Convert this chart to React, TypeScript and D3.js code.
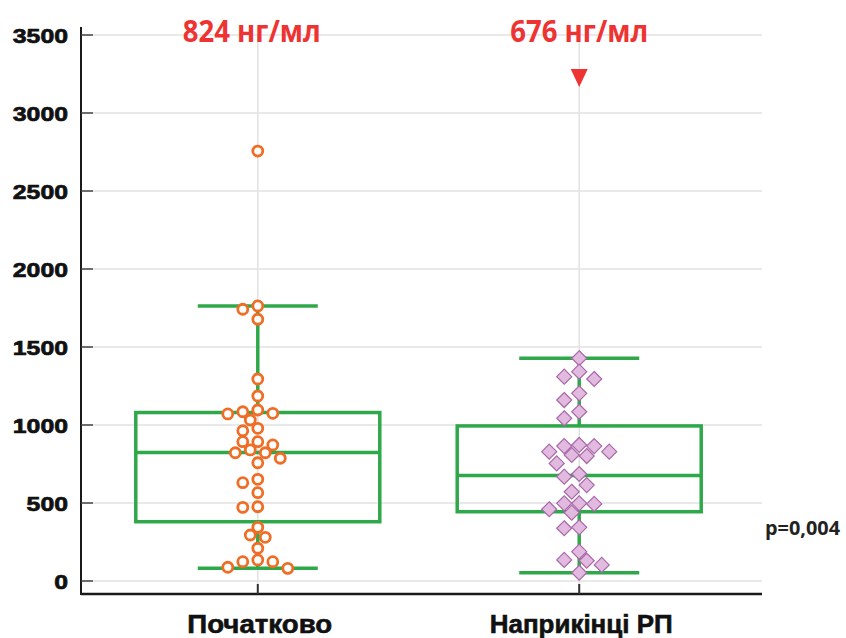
import React, { useEffect, useRef } from 'react';
import * as d3 from 'd3';

// categories on the x axis
const categories = ['Початково', 'Наприкінці РП'];

// individual measurements (нг/мл)
const baselineValues = [
  2756, 1763, 1742, 1678, 1295, 1186, 1096, 1085, 1075, 1071, 1032, 979, 963,
  893, 893, 872, 840, 822, 822, 787, 758, 652, 630, 566, 476, 472, 344, 295,
  280, 210, 135, 124, 124, 88, 81,
];
const endValues = [
  1428, 1342, 1310, 1295, 1203, 1160, 1085, 1043, 872, 865, 865, 829, 829, 808,
  801, 754, 686, 669, 615, 572, 498, 498, 494, 460, 438, 344, 338, 188, 135,
  130, 103, 53,
];

// box plot statistics per category
const medians = [824, 676];
const q1 = [380, 444];
const q3 = [1080, 994];
const whiskerLow = [81, 53];
const whiskerHigh = [1763, 1428];

const medianLabels = ['824 нг/мл', '676 нг/мл'];
const yTicks = [0, 500, 1000, 1500, 2000, 2500, 3000, 3500];
const pValueLabel = 'p=0,004';

// simple dodge layout: push points sideways in fixed slots until they stop overlapping
function dodge(values: number[], y: (v: number) => number, step: number, minDist: number) {
  const order = values.map((v, i) => i).sort((a, b) => values[b] - values[a]);
  const placed: { py: number; slot: number }[] = [];
  const slots = new Array(values.length).fill(0);
  order.forEach(i => {
    const py = y(values[i]);
    for (let k = 0; k < 20; k++) {
      const slot = k === 0 ? 0 : (k % 2 ? -Math.ceil(k / 2) : Math.ceil(k / 2));
      const hit = placed.some(p => {
        const dx = (p.slot - slot) * step;
        const dy = p.py - py;
        return Math.sqrt(dx * dx + dy * dy) < minDist;
      });
      if (!hit) {
        placed.push({ py, slot });
        slots[i] = slot;
        break;
      }
    }
  });
  return slots;
}

const App = () => {
  const chartRef = useRef<SVGSVGElement>(null);

  useEffect(() => {
    const svg = d3.select(chartRef.current);
    svg.selectAll('*').remove();

    const left = 81;
    const right = 762;
    const axisY = 594;

    const y = d3.scaleLinear().domain([0, 3500]).range([581, 35]);
    const x = d3.scalePoint<string>().domain(categories).range([left, 756]).padding(0.55);

    const green = '#2fa84a';

    // grid
    svg.append('g')
      .selectAll('line')
      .data(yTicks)
      .enter()
      .append('line')
      .attr('x1', left)
      .attr('x2', right)
      .attr('y1', d => y(d))
      .attr('y2', d => y(d))
      .attr('stroke', '#e2e2e2')
      .attr('stroke-width', 1.5);

    svg.append('g')
      .selectAll('line')
      .data(categories)
      .enter()
      .append('line')
      .attr('x1', d => x(d)!)
      .attr('x2', d => x(d)!)
      .attr('y1', y(3500))
      .attr('y2', axisY)
      .attr('stroke', '#e2e2e2')
      .attr('stroke-width', 1.5);

    // axes
    svg.append('line')
      .attr('x1', left).attr('x2', left)
      .attr('y1', 27).attr('y2', axisY + 1)
      .attr('stroke', '#1a1a1a').attr('stroke-width', 2);
    svg.append('line')
      .attr('x1', left).attr('x2', right)
      .attr('y1', axisY).attr('y2', axisY)
      .attr('stroke', '#1a1a1a').attr('stroke-width', 2.5);

    svg.append('g')
      .selectAll('line')
      .data(yTicks)
      .enter()
      .append('line')
      .attr('x1', left)
      .attr('x2', left + 12)
      .attr('y1', d => y(d))
      .attr('y2', d => y(d))
      .attr('stroke', '#444')
      .attr('stroke-width', 1.5);

    svg.append('g')
      .selectAll('text')
      .data(yTicks)
      .enter()
      .append('text')
      .attr('x', 68)
      .attr('y', d => y(d) + 7.5)
      .attr('text-anchor', 'end')
      .attr('font-family', 'Liberation Sans, Arial, sans-serif')
      .attr('font-weight', 'bold')
      .attr('font-size', 21)
      .attr('textLength', d => String(d).length * 13.8)
      .attr('lengthAdjust', 'spacingAndGlyphs')
      .attr('fill', '#111')
      .attr('stroke', '#111')
      .attr('stroke-width', 0.7)
      .text(d => d);

    svg.append('g')
      .selectAll('line')
      .data(categories)
      .enter()
      .append('line')
      .attr('x1', d => x(d)!)
      .attr('x2', d => x(d)!)
      .attr('y1', axisY)
      .attr('y2', axisY - 10)
      .attr('stroke', '#333')
      .attr('stroke-width', 2);

    svg.append('g')
      .selectAll('text')
      .data(categories)
      .enter()
      .append('text')
      .attr('x', d => x(d)! + 2)
      .attr('y', 633)
      .attr('text-anchor', 'middle')
      .attr('font-family', 'Liberation Sans, Arial, sans-serif')
      .attr('font-weight', 'bold')
      .attr('font-size', 26)
      .attr('textLength', (d, i) => (i === 0 ? 145 : 183))
      .attr('lengthAdjust', 'spacingAndGlyphs')
      .attr('fill', '#111')
      .attr('stroke', '#111')
      .attr('stroke-width', 0.6)
      .text(d => d);

    // boxes
    const boxHalf = 122;
    const capHalf = 60;
    const boxes = svg.append('g')
      .attr('fill', 'none')
      .attr('stroke', green)
      .attr('stroke-width', 3.5);
    categories.forEach((c, i) => {
      const cx = x(c)!;
      boxes.append('rect')
        .attr('x', cx - boxHalf)
        .attr('y', y(q3[i]))
        .attr('width', boxHalf * 2)
        .attr('height', y(q1[i]) - y(q3[i]));
      boxes.append('line')
        .attr('x1', cx - boxHalf).attr('x2', cx + boxHalf)
        .attr('y1', y(medians[i])).attr('y2', y(medians[i]));
      boxes.append('line')
        .attr('x1', cx).attr('x2', cx)
        .attr('y1', y(q3[i])).attr('y2', y(whiskerHigh[i]));
      boxes.append('line')
        .attr('x1', cx).attr('x2', cx)
        .attr('y1', y(q1[i])).attr('y2', y(whiskerLow[i]));
      boxes.append('line')
        .attr('x1', cx - capHalf).attr('x2', cx + capHalf)
        .attr('y1', y(whiskerHigh[i])).attr('y2', y(whiskerHigh[i]));
      boxes.append('line')
        .attr('x1', cx - capHalf).attr('x2', cx + capHalf)
        .attr('y1', y(whiskerLow[i])).attr('y2', y(whiskerLow[i]));
    });

    // points: circles for baseline
    const step = 7.5;
    const slotsA = dodge(baselineValues, y, step, 10.5);
    svg.append('g')
      .selectAll('circle')
      .data(baselineValues)
      .enter()
      .append('circle')
      .attr('cx', (d, i) => x(categories[0])! + slotsA[i] * step)
      .attr('cy', d => y(d))
      .attr('r', 5)
      .attr('fill', '#fff')
      .attr('stroke', '#ef6d24')
      .attr('stroke-width', 2.8);

    // diamonds for end of treatment
    const slotsB = dodge(endValues, y, step, 11.5);
    const diamond = 'M0,-7.5L7.5,0L0,7.5L-7.5,0Z';
    svg.append('g')
      .selectAll('path')
      .data(endValues)
      .enter()
      .append('path')
      .attr('d', diamond)
      .attr('transform', (d, i) => `translate(${x(categories[1])! + slotsB[i] * step},${y(d)})`)
      .attr('fill', '#e2b9df')
      .attr('stroke', '#a868a8')
      .attr('stroke-width', 1.2);

    // median annotations
    svg.append('g')
      .selectAll('text')
      .data(medianLabels)
      .enter()
      .append('text')
      .attr('x', (d, i) => x(categories[i])! - (i === 0 ? 6 : 0))
      .attr('y', 42)
      .attr('text-anchor', 'middle')
      .attr('font-family', 'Open Sans, Noto Sans, sans-serif')
      .attr('font-weight', 'bold')
      .attr('font-size', 31)
      .attr('textLength', 138)
      .attr('lengthAdjust', 'spacingAndGlyphs')
      .attr('fill', '#ee3333')
      .text(d => d);

    svg.append('path')
      .attr('d', 'M-8.5,-9L8.5,-9L0,9Z')
      .attr('transform', `translate(${x(categories[1])},78)`)
      .attr('fill', '#ee3333');

    svg.append('text')
      .attr('x', 765)
      .attr('y', 535)
      .attr('font-family', 'Open Sans, Noto Sans, sans-serif')
      .attr('font-weight', 'bold')
      .attr('font-size', 19)
      .attr('textLength', 75)
      .attr('lengthAdjust', 'spacingAndGlyphs')
      .attr('fill', '#222')
      .text(pValueLabel);
  }, []);

  return (
    <svg
      ref={chartRef}
      width={846}
      height={638}
      style={{ position: 'absolute', left: 0, top: 0, background: '#fff' }}
    />
  );
};

export default App;
